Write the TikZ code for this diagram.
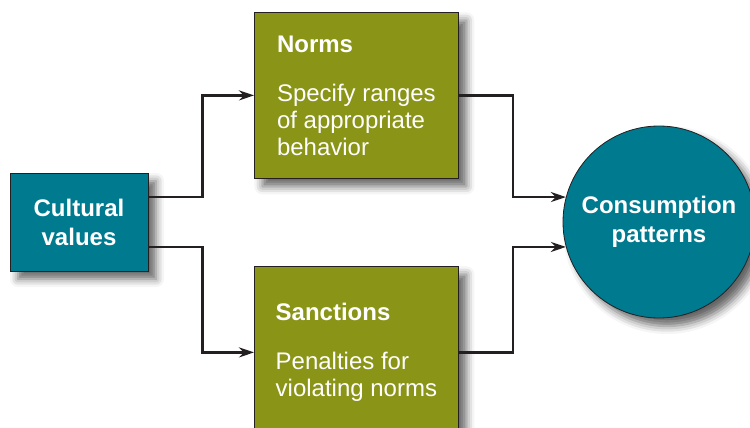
\documentclass[tikz,border=0pt]{standalone}
\usepackage{fontspec}
\setmainfont{Liberation Sans}
\usepackage{xcolor}
\usepackage{tikz}
\usetikzlibrary{positioning,arrows.meta,shadows.blur}
\definecolor{c_values}{rgb}{0.0, 0.48, 0.56}
\definecolor{c_rules}{rgb}{0.54, 0.58, 0.09}
\definecolor{c_line}{rgb}{0.14, 0.12, 0.13}
\tikzset{c-box/.style={rectangle, draw=c_line, line width=0.8pt, text=white, fill=c_rules, align=left, minimum width=204pt, font=\fontsize{24}{27}\selectfont, blur shadow={shadow xshift=8pt, shadow yshift=-8pt, shadow blur radius=8pt, shadow opacity=60}},
c-values/.style={rectangle, draw=c_line, line width=0.8pt, text=white, fill=c_values, align=center, minimum width=138pt, minimum height=98pt, font=\bfseries\fontsize{24}{29}\selectfont, blur shadow={shadow xshift=8pt, shadow yshift=-8pt, shadow blur radius=8pt, shadow opacity=60}},
c-circle/.style={circle, draw=c_line, line width=0.8pt, text=white, fill=c_values, align=center, minimum size=192pt, inner sep=0pt, font=\bfseries\fontsize{24}{29}\selectfont, blur shadow={shadow xshift=8pt, shadow yshift=-8pt, shadow blur radius=8pt, shadow opacity=60}},
arrow/.style={line width=2.6pt, draw=c_line, ->, >={Stealth[length=15pt,width=10pt]}}}

\begin{document}
\begin{tikzpicture}[x=1pt, y=-1pt]
\useasboundingbox (0,0) rectangle (750,428);
\node (n0) [c-values] at (79,222) {Cultural\\values};
\node (n1) [c-box, minimum height=166pt, anchor=north west] at (254,12) {
{\bfseries Norms}\\[22pt]
Specify ranges\\
of appropriate\\
behavior
};
\node (n2) [c-box, minimum height=172pt, anchor=north west] at (254,266) {
{\bfseries Sanctions}\\[22pt]
Penalties for\\
violating norms
};
\node (n3) [c-circle] at (659,222) {Consumption\\patterns};
\draw [arrow] ([yshift=25pt]n0.east) -- ++(54,0) |- (n1.west);
\draw [arrow] ([yshift=-25pt]n0.east) -- ++(54,0) |- (n2.west);
\draw [arrow] (n1.east) -- ++(54,0) |- (n3.165);
\draw [arrow] (n2.east) -- ++(54,0) |- (n3.195);
\end{tikzpicture}
\end{document}
